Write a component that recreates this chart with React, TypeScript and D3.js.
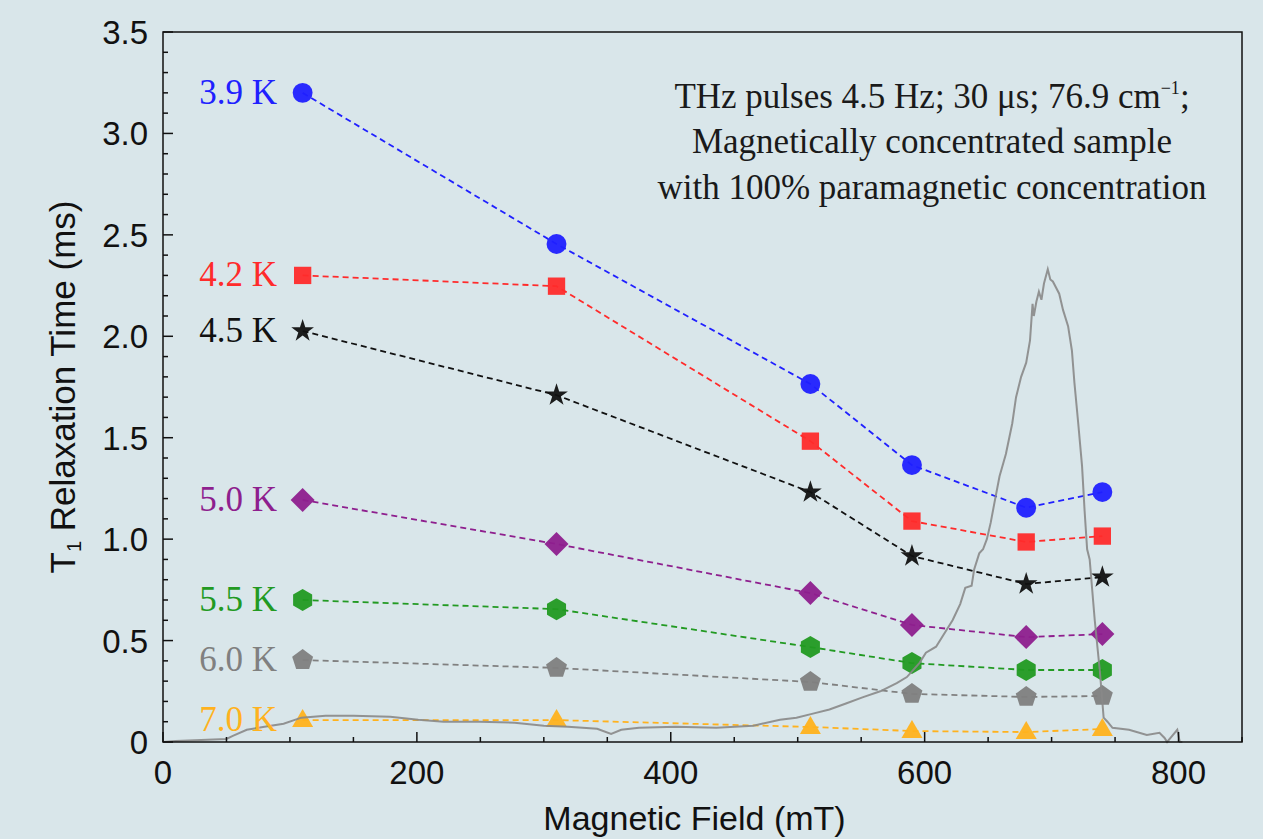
import React from "react";
import * as d3 from "d3";

// ---------- data ----------
const fields = [110, 310, 510, 590, 680, 740];
const seriesLabels = ["3.9 K", "4.2 K", "4.5 K", "5.0 K", "5.5 K", "6.0 K", "7.0 K"];
const t39 = [3.2, 2.455, 1.765, 1.365, 1.155, 1.232];
const t42 = [2.3, 2.247, 1.483, 1.089, 0.986, 1.015];
const t45 = [2.026, 1.71, 1.232, 0.917, 0.779, 0.813];
const t50 = [1.193, 0.976, 0.734, 0.577, 0.517, 0.532];
const t55 = [0.7, 0.655, 0.468, 0.389, 0.355, 0.355];
const t60 = [0.404, 0.365, 0.296, 0.237, 0.222, 0.227];
const t70 = [0.108, 0.108, 0.074, 0.054, 0.049, 0.064];
const seriesValues = [t39, t42, t45, t50, t55, t60, t70];
const seriesColors = ["#2020ff", "#ff2b2b", "#111111", "#8e1f8e", "#229a22", "#808080", "#ffb21e"];
const seriesShapes = ["circle", "square", "star", "diamond", "hexagon", "pentagon", "triangle"];

// EPR-like spectrum (gray trace)
const specField = [0, 10, 30, 50, 55, 66, 80, 95, 109, 128, 150, 179, 201, 221, 249, 277, 300, 319, 342, 353, 361, 375, 404, 436, 465, 486, 499, 512, 525, 538, 551, 565, 578, 586, 596, 601, 609, 616, 622, 628, 632, 637, 639, 643, 646, 649, 652, 655, 659, 664, 669, 672, 676, 680, 683, 685, 686, 688, 690, 692, 694, 697, 699, 701, 706, 709, 713, 716, 718, 721, 724, 726, 728, 730, 734, 738, 741, 744, 748, 761, 775, 785, 789, 791, 795, 799, 801, 803];
const specValue = [0.0, 0.005, 0.01, 0.015, 0.03, 0.06, 0.075, 0.09, 0.12, 0.13, 0.13, 0.125, 0.11, 0.1, 0.1, 0.095, 0.08, 0.075, 0.065, 0.04, 0.06, 0.07, 0.075, 0.07, 0.08, 0.11, 0.12, 0.14, 0.16, 0.19, 0.22, 0.25, 0.29, 0.32, 0.39, 0.44, 0.47, 0.54, 0.6, 0.68, 0.76, 0.77, 0.85, 0.93, 0.95, 1.0, 1.08, 1.18, 1.31, 1.42, 1.57, 1.7, 1.8, 1.87, 1.98, 2.16, 2.1, 2.17, 2.22, 2.18, 2.26, 2.33, 2.28, 2.27, 2.21, 2.13, 2.05, 1.93, 1.77, 1.57, 1.36, 1.14, 0.95, 0.9, 0.6, 0.35, 0.12, 0.1, 0.07, 0.06, 0.035, 0.045, 0.02, 0.0, 0.03, 0.06, 0.0, 0.0];

const xMajorTicks = [0, 200, 400, 600, 800];
const yMajorTicks = [0, 0.5, 1.0, 1.5, 2.0, 2.5, 3.0, 3.5];
const yTickLabels = ["0", "0.5", "1.0", "1.5", "2.0", "2.5", "3.0", "3.5"];
const annotationLines = [
  "Magnetically concentrated sample",
  "with 100% paramagnetic concentration",
];

// ---------- layout ----------
const W = 1263;
const H = 839;
const left = 163;
const right = 1242;
const top = 32;
const bottom = 742;

const x = d3.scaleLinear().domain([0, 850]).range([left, right]);
const y = d3.scaleLinear().domain([0, 3.5]).range([bottom, top]);

function polygon(n: number, r: number, rot = -Math.PI / 2) {
  const pts: [number, number][] = d3.range(n).map((i) => {
    const a = rot + (i * 2 * Math.PI) / n;
    return [r * Math.cos(a), r * Math.sin(a)];
  });
  return "M" + pts.map((p) => p.join(",")).join("L") + "Z";
}

function markerPath(shape: string): string {
  switch (shape) {
    case "circle":
      return d3.symbol(d3.symbolCircle, 310)()!;
    case "square":
      return d3.symbol(d3.symbolSquare, 300)()!;
    case "star":
      return d3.symbol(d3.symbolStar, 160)()!;
    case "diamond":
      return polygon(4, 12);
    case "hexagon":
      return polygon(6, 11);
    case "pentagon":
      return polygon(5, 11);
    case "triangle":
      return "M0,-11L10.5,7L-10.5,7Z";
  }
  return "";
}

const serif = "'Liberation Serif', 'Times New Roman', serif";
const sans = "'Liberation Sans', Arial, sans-serif";

export default function App() {
  const line = d3
    .line<number>()
    .x((_, i) => x(fields[i]))
    .y((d) => y(d));
  const specLine = d3
    .line<number>()
    .x((_, i) => x(specField[i]))
    .y((d) => y(d));
  const xMinor = d3.range(0, 851, 50).filter((v) => v % 200 !== 0);
  const yMinor = d3.range(0, 36).map((v) => v / 10).filter((v) => Math.round(v * 10) % 5 !== 0);

  return (
    <svg
      width={W}
      height={H}
      style={{ position: "absolute", left: 0, top: 0, display: "block" }}
    >
      <rect x={0} y={0} width={W} height={H} fill="#d9e6ea" />

      {/* series lines */}
      {seriesValues.map((vals, s) => (
        <path
          key={"l" + s}
          d={line(vals)!}
          fill="none"
          stroke={seriesColors[s]}
          strokeWidth={1.8}
          strokeDasharray="6,4"
        />
      ))}
      {/* markers */}
      {seriesValues.map((vals, s) =>
        vals.map((v, i) => (
          <path
            key={"m" + s + "-" + i}
            d={markerPath(seriesShapes[s])}
            transform={`translate(${x(fields[i])},${y(v)})`}
            fill={seriesColors[s]}
            opacity={0.95}
          />
        ))
      )}
      {/* spectrum */}
      <path d={specLine(specValue)!} fill="none" stroke="#888" strokeWidth={2} opacity={0.9} />

      {/* series labels */}
      {seriesValues.map((vals, s) => (
        <text
          key={"t" + s}
          x={277}
          y={y(vals[0]) + 11}
          textAnchor="end"
          fontFamily={serif}
          fontSize={35}
          fill={seriesColors[s]}
        >
          {seriesLabels[s]}
        </text>
      ))}

      {/* frame */}
      <rect x={left} y={top} width={right - left} height={bottom - top} fill="none" stroke="#111" strokeWidth={1.5} />

      {/* x ticks */}
      {xMajorTicks.map((t) => (
        <g key={"xt" + t}>
          <line x1={x(t)} x2={x(t)} y1={bottom} y2={bottom - 10} stroke="#111" strokeWidth={1.5} />
          <text x={x(t)} y={bottom + 42} textAnchor="middle" fontFamily={sans} fontSize={33} fill="#111">
            {t}
          </text>
        </g>
      ))}
      {xMinor.map((t) => (
        <line key={"xm" + t} x1={x(t)} x2={x(t)} y1={bottom} y2={bottom - 5} stroke="#111" strokeWidth={1.5} />
      ))}
      {/* y ticks */}
      {yMajorTicks.map((t, i) => (
        <g key={"yt" + t}>
          <line x1={left} x2={left + 10} y1={y(t)} y2={y(t)} stroke="#111" strokeWidth={1.5} />
          <text x={left - 15} y={y(t) + 12} textAnchor="end" fontFamily={sans} fontSize={33} fill="#111">
            {yTickLabels[i]}
          </text>
        </g>
      ))}
      {yMinor.map((t) => (
        <line key={"ym" + t} x1={left} x2={left + 5} y1={y(t)} y2={y(t)} stroke="#111" strokeWidth={1.5} />
      ))}

      {/* axis titles */}
      <text x={(left + right) / 2 - 8} y={830} textAnchor="middle" fontFamily={sans} fontSize={34} fill="#111">
        Magnetic Field (mT)
      </text>
      <text
        transform={`translate(75,${(top + bottom) / 2}) rotate(-90)`}
        textAnchor="middle"
        fontFamily={sans}
        fontSize={35}
        fill="#111"
      >
        T<tspan fontSize={20} dy={6}>1</tspan>
        <tspan dy={-6}> Relaxation Time (ms)</tspan>
      </text>

      {/* annotation */}
      <text x={932} y={108} textAnchor="middle" fontFamily={serif} fontSize={35} fill="#1a1a1a">
        THz pulses 4.5 Hz; 30 μs; 76.9 cm<tspan fontSize={18} dy={-14}>−1</tspan>
        <tspan dy={14}>;</tspan>
      </text>
      {annotationLines.map((l, i) => (
        <text key={"a" + i} x={932} y={153 + i * 46} textAnchor="middle" fontFamily={serif} fontSize={35} fill="#1a1a1a">
          {l}
        </text>
      ))}
    </svg>
  );
}
